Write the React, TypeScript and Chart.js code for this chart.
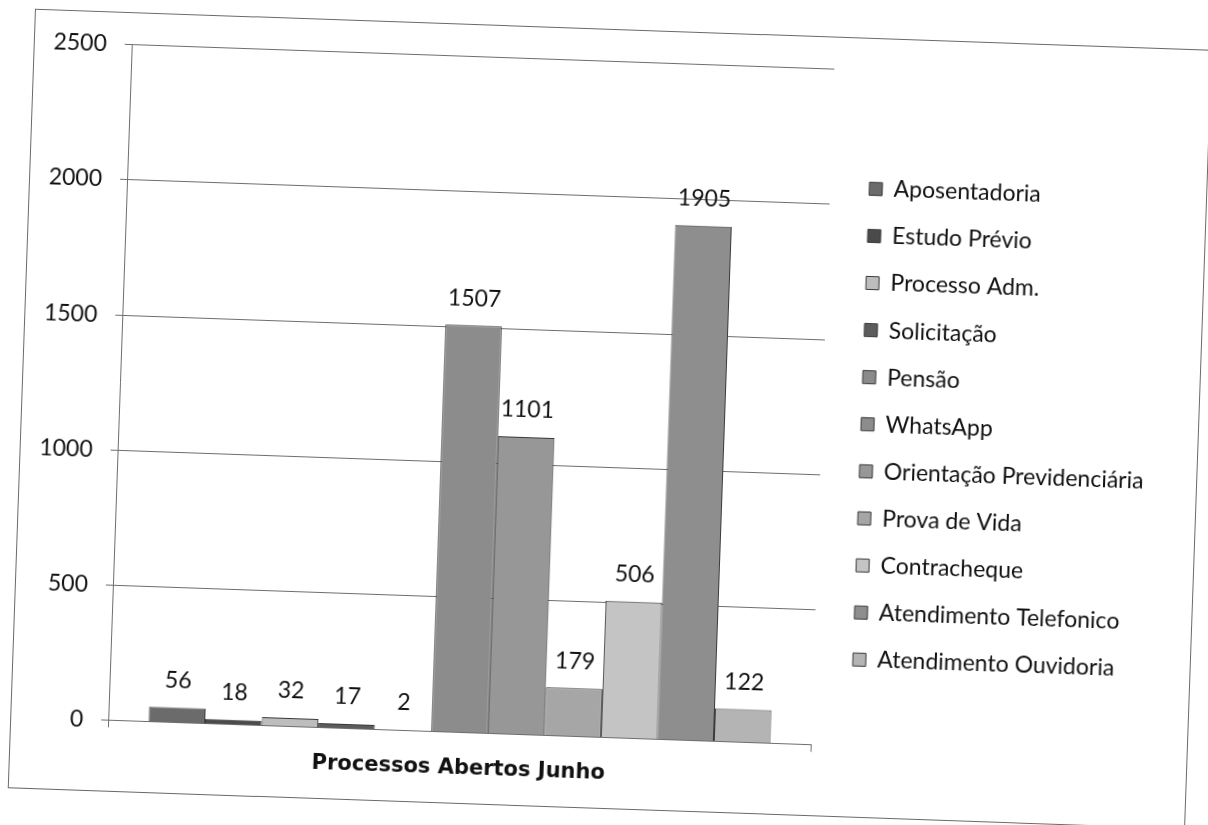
import React, { useEffect, useRef } from "react";
import { Chart, registerables } from "chart.js";

Chart.register(...registerables);

const categories = ["Processos Abertos Junho"];
const seriesNames = [
  "Aposentadoria",
  "Estudo Prévio",
  "Processo Adm.",
  "Solicitação",
  "Pensão",
  "WhatsApp",
  "Orientação Previdenciária",
  "Prova de Vida",
  "Contracheque",
  "Atendimento Telefonico",
  "Atendimento Ouvidoria",
];
const seriesValues = [56, 18, 32, 17, 2, 1507, 1101, 179, 506, 1905, 122];
const seriesColors = [
  "#6b6b6b",
  "#4a4a4a",
  "#bdbdbd",
  "#5c5c5c",
  "#8a8a8a",
  "#8c8c8c",
  "#979797",
  "#a6a6a6",
  "#c4c4c4",
  "#8e8e8e",
  "#b4b4b4",
];
const yMin = 0;
const yMax = 2500;
const yStep = 500;

const W = 1176;
const H = 778;

export default function App() {
  const ref = useRef<HTMLCanvasElement>(null);

  useEffect(() => {
    const canvas = ref.current;
    if (!canvas) return;

    const legendFontSize = 23;
    const legendFamily = "Lato";
    const m = document.createElement("canvas").getContext("2d")!;
    m.font = `${legendFontSize}px ${legendFamily}`;
    const maxText = Math.max(...seriesNames.map((n) => m.measureText(n).width));
    const legendPad = 24.1;
    const boxW = 13;
    const legendWidth = legendPad + boxW + legendFontSize / 2 + maxText;
    const legendLeft = 825;
    const padRight = Math.max(0, W - legendLeft - legendWidth);

    const valueLabels = {
      id: "valueLabels",
      afterDatasetsDraw(chart: any) {
        const ctx = chart.ctx;
        ctx.save();
        ctx.font = `${legendFontSize}px ${legendFamily}`;
        ctx.fillStyle = "#111";
        ctx.textAlign = "center";
        ctx.textBaseline = "middle";
        chart.data.datasets.forEach((ds: any, i: number) => {
          const meta = chart.getDatasetMeta(i);
          meta.data.forEach((el: any, j: number) => {
            ctx.fillText(String(ds.data[j]), el.x, el.y - 27);
          });
        });
        ctx.restore();
      },
    };

    const chart = new Chart(canvas, {
      type: "bar",
      data: {
        labels: categories,
        datasets: seriesNames.map((name, i) => ({
          label: name,
          data: [seriesValues[i]],
          backgroundColor: seriesColors[i],
          borderColor: "#3a3a3a",
          borderWidth: 1,
          categoryPercentage: 0.885,
          barPercentage: 1,
        })),
      },
      options: {
        responsive: false,
        animation: false,
        layout: {
          padding: { left: 0, top: 29, bottom: 20.4, right: padRight },
        },
        plugins: {
          tooltip: { enabled: false },
          legend: {
            position: "right",
            align: "start",
            maxWidth: 600,
            title: {
              display: true,
              text: " ",
              font: { size: 10, lineHeight: 1.2 },
              padding: { top: 73.2, bottom: 0 },
            },
            labels: {
              boxWidth: boxW,
              boxHeight: boxW,
              padding: legendPad,
              color: "#111",
              font: { family: legendFamily, size: legendFontSize },
            },
          },
        },
        scales: {
          x: {
            grid: {
              drawOnChartArea: false,
              drawTicks: true,
              tickLength: 7,
              color: "#6e6e6e",
            },
            border: { color: "#6e6e6e", width: 1 },
            ticks: {
              color: "#111",
              padding: 16,
              maxRotation: 0,
              font: { family: "DejaVu Sans", size: 21, weight: "bold" },
            },
            afterFit: (s: any) => {
              s.height = 50;
            },
          },
          y: {
            min: yMin,
            max: yMax,
            ticks: {
              stepSize: yStep,
              color: "#111",
              padding: 18,
              font: { family: "Lato", size: 23 },
              callback: (v: any) => String(v),
            },
            grid: {
              color: "#6e6e6e",
              tickLength: 7,
            },
            border: { color: "#6e6e6e", width: 1 },
            afterFit: (s: any) => {
              s.width = 97;
            },
          },
          yR: {
            position: "right",
            display: true,
            grid: { display: false },
            border: { display: false },
            ticks: { display: false },
            afterFit: (s: any) => {
              s.width = 15;
            },
          },
        },
      },
      plugins: [valueLabels],
    });

    return () => chart.destroy();
  }, []);

  return (
    <div
      style={{
        position: "absolute",
        left: 20.5,
        top: 28.75,
        width: W,
        height: H,
        border: "1px solid #6a6a6a",
        background: "#fff",
        transform: "rotate(2deg)",
        transformOrigin: "50% 50%",
      }}
    >
      <canvas ref={ref} width={W} height={H} style={{ display: "block" }} />
    </div>
  );
}
